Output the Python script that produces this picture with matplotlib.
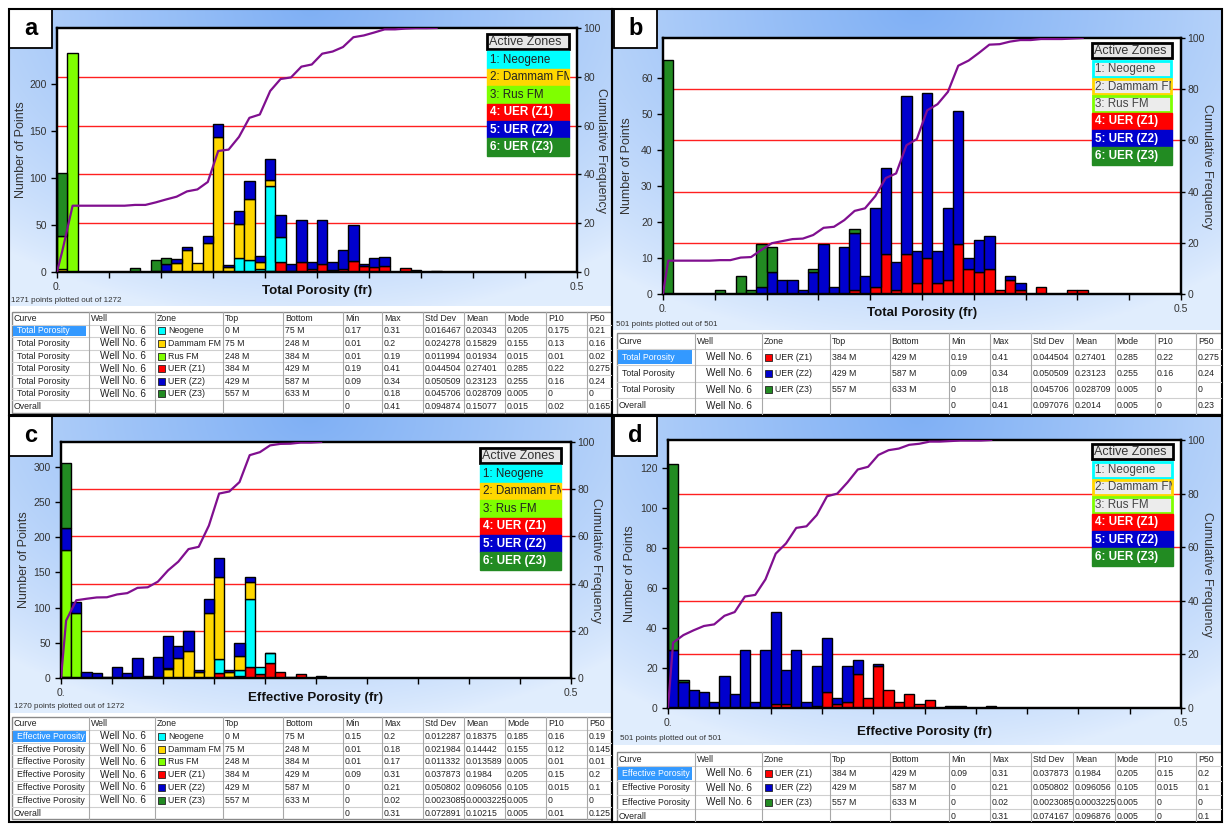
import numpy as np
import matplotlib.pyplot as plt
from matplotlib.patches import Rectangle

plt.rcParams['font.family'] = ['Liberation Sans', 'DejaVu Sans']

W, H = 1226, 826
BIN = 0.01

zone_names = ['Neogene', 'Dammam FM', 'Rus FM', 'UER (Z1)', 'UER (Z2)', 'UER (Z3)']
zone_colors = ['#00ffff', '#ffd700', '#7fff00', '#ff0000', '#0000cd', '#228b22']
# bottom-to-top order of the stacked segments
stack_order = [3, 0, 1, 2, 4, 5]

# counts per 0.01 porosity bin, first bin starts at 0
# (a) total porosity, all zones
a_neogene = [0, 0, 0, 0, 0, 0, 0, 0, 0, 0, 0, 0, 0, 0, 0, 0, 0, 15, 13, 3, 91, 26]
a_dammam = [3, 0, 0, 0, 0, 0, 0, 0, 0, 0, 0, 10, 23, 10, 31, 144, 5, 36, 65, 8, 6]
a_rus = [35, 233, 0, 0, 0, 0, 0, 0, 0, 0, 1]
a_z1 = [0, 0, 0, 0, 0, 0, 0, 0, 0, 0, 0, 0, 0, 0, 0, 0, 0, 0, 0, 0,
        1, 11, 1, 11, 3, 9, 2, 3, 12, 6, 5, 6, 0, 4, 2, 0, 1]
a_z2 = [0, 0, 0, 0, 0, 0, 0, 0, 0, 1, 7, 4, 4, 0, 7, 14, 2, 14, 19, 6,
        22, 24, 7, 44, 8, 46, 9, 20, 38, 3, 10, 10]
a_z3 = [67, 0, 0, 0, 0, 0, 0, 4, 0, 12, 7]

# (b) total porosity, UER zones
b_z1 = [0, 0, 0, 0, 0, 0, 0, 0, 0, 0, 0, 0, 0, 0, 0, 0, 0, 0, 1, 0,
        2, 11, 1, 11, 3, 10, 3, 4, 14, 7, 6, 7, 1, 4, 1, 0, 2, 0, 0, 1, 1]
b_z2 = [0, 0, 0, 0, 0, 0, 0, 0, 0, 2, 6, 4, 4, 1, 6, 14, 2, 13, 16, 5,
        22, 24, 8, 44, 9, 46, 9, 20, 37, 3, 9, 9, 0, 1, 2]
b_z3 = [65, 0, 0, 0, 0, 1, 0, 5, 1, 12, 7, 0, 0, 0, 1, 0, 0, 0, 1]

# (c) effective porosity, all zones
c_neogene = [0, 0, 0, 0, 0, 0, 0, 0, 0, 0, 0, 0, 0, 0, 0, 20, 0, 9, 97, 10, 14]
c_dammam = [2, 0, 0, 0, 0, 0, 0, 0, 0, 0, 13, 29, 38, 9, 92, 116, 6, 19, 23]
c_rus = [180, 93, 0, 0, 0, 0, 0, 0, 0, 0, 1]
c_z1 = [0, 0, 0, 0, 0, 0, 0, 0, 0, 0, 0, 0, 0, 0, 0, 7, 2, 3, 16, 6, 21, 8, 1, 6, 0, 3]
c_z2 = [31, 15, 8, 7, 1, 15, 7, 28, 3, 30, 46, 17, 29, 3, 21, 27, 3, 19, 7, 0, 1]
c_z3 = [92]

# (d) effective porosity, UER zones
d_z1 = [0, 0, 0, 0, 0, 0, 0, 0, 0, 0, 2, 2, 0, 0, 1, 8, 2, 3, 17, 5,
        21, 9, 3, 7, 2, 4, 0, 1, 1, 0, 0, 1]
d_z2 = [29, 13, 9, 8, 3, 16, 7, 29, 3, 29, 46, 17, 29, 3, 20, 27, 3, 18, 7, 0, 1]
d_z3 = [93, 1]

table_header = ['Curve', 'Well', 'Zone', 'Top', 'Bottom', 'Min', 'Max', 'Std Dev', 'Mean', 'Mode', 'P10', 'P50']
table_a = [
    ['Total Porosity', 'Well No. 6', 'Neogene', '0 M', '75 M', '0.17', '0.31', '0.016467', '0.20343', '0.205', '0.175', '0.21'],
    ['Total Porosity', 'Well No. 6', 'Dammam FM', '75 M', '248 M', '0.01', '0.2', '0.024278', '0.15829', '0.155', '0.13', '0.16'],
    ['Total Porosity', 'Well No. 6', 'Rus FM', '248 M', '384 M', '0.01', '0.19', '0.011994', '0.01934', '0.015', '0.01', '0.02'],
    ['Total Porosity', 'Well No. 6', 'UER (Z1)', '384 M', '429 M', '0.19', '0.41', '0.044504', '0.27401', '0.285', '0.22', '0.275'],
    ['Total Porosity', 'Well No. 6', 'UER (Z2)', '429 M', '587 M', '0.09', '0.34', '0.050509', '0.23123', '0.255', '0.16', '0.24'],
    ['Total Porosity', 'Well No. 6', 'UER (Z3)', '557 M', '633 M', '0', '0.18', '0.045706', '0.028709', '0.005', '0', '0'],
    ['Overall', '', '', '', '', '0', '0.41', '0.094874', '0.15077', '0.015', '0.02', '0.165'],
]
table_b = [
    ['Total Porosity', 'Well No. 6', 'UER (Z1)', '384 M', '429 M', '0.19', '0.41', '0.044504', '0.27401', '0.285', '0.22', '0.275'],
    ['Total Porosity', 'Well No. 6', 'UER (Z2)', '429 M', '587 M', '0.09', '0.34', '0.050509', '0.23123', '0.255', '0.16', '0.24'],
    ['Total Porosity', 'Well No. 6', 'UER (Z3)', '557 M', '633 M', '0', '0.18', '0.045706', '0.028709', '0.005', '0', '0'],
    ['Overall', 'Well No. 6', '', '', '', '0', '0.41', '0.097076', '0.2014', '0.005', '0', '0.23'],
]
table_c = [
    ['Effective Porosity', 'Well No. 6', 'Neogene', '0 M', '75 M', '0.15', '0.2', '0.012287', '0.18375', '0.185', '0.16', '0.19'],
    ['Effective Porosity', 'Well No. 6', 'Dammam FM', '75 M', '248 M', '0.01', '0.18', '0.021984', '0.14442', '0.155', '0.12', '0.145'],
    ['Effective Porosity', 'Well No. 6', 'Rus FM', '248 M', '384 M', '0.01', '0.17', '0.011332', '0.013589', '0.005', '0.01', '0.01'],
    ['Effective Porosity', 'Well No. 6', 'UER (Z1)', '384 M', '429 M', '0.09', '0.31', '0.037873', '0.1984', '0.205', '0.15', '0.2'],
    ['Effective Porosity', 'Well No. 6', 'UER (Z2)', '429 M', '587 M', '0', '0.21', '0.050802', '0.096056', '0.105', '0.015', '0.1'],
    ['Effective Porosity', 'Well No. 6', 'UER (Z3)', '557 M', '633 M', '0', '0.02', '0.0023085', '0.0003225', '0.005', '0', '0'],
    ['Overall', '', '', '', '', '0', '0.31', '0.072891', '0.10215', '0.005', '0.01', '0.125'],
]
table_d = [
    ['Effective Porosity', 'Well No. 6', 'UER (Z1)', '384 M', '429 M', '0.09', '0.31', '0.037873', '0.1984', '0.205', '0.15', '0.2'],
    ['Effective Porosity', 'Well No. 6', 'UER (Z2)', '429 M', '587 M', '0', '0.21', '0.050802', '0.096056', '0.105', '0.015', '0.1'],
    ['Effective Porosity', 'Well No. 6', 'UER (Z3)', '557 M', '633 M', '0', '0.02', '0.0023085', '0.0003225', '0.005', '0', '0'],
    ['Overall', '', '', '', '', '0', '0.31', '0.074167', '0.096876', '0.005', '0', '0.1'],
]

cols_left = [11.7, 88.5, 155, 223, 283, 343, 382, 423, 464, 505, 546, 587, 628]
cols_right = [616.7, 695, 762, 830, 889.5, 949, 990, 1031, 1073, 1114.5, 1155, 1196, 1237]

panels = [
    dict(letter='a', zones=[a_neogene, a_dammam, a_rus, a_z1, a_z2, a_z3], headroom=1.115, ystep=50,
         xlabel='Total Porosity (fr)', note='1271 points plotted out of 1272', table=table_a,
         active=[True] * 6,
         box=(9, 9, 612, 415), letter_box=(9, 9, 52, 48), axes=(57, 28, 577, 272), bg_bottom=306,
         legend=(487, 569, 34), ylab_x=21, y2lab_x=601, xlab_y=291, note_xy=(11, 301),
         cols=cols_left, table_top=312, row_h=12.6),
    dict(letter='b', zones=[[], [], [], b_z1, b_z2, b_z3], headroom=1.095, ystep=10,
         xlabel='Total Porosity (fr)', note='501 points plotted out of 501', table=table_b,
         active=[False, False, False, True, True, True],
         box=(612, 9, 1222, 415), letter_box=(614, 9, 657, 48), axes=(663, 38, 1181, 294), bg_bottom=330,
         legend=(1092, 1172, 43), ylab_x=627, y2lab_x=1207, xlab_y=313, note_xy=(616, 325),
         cols=cols_right, table_top=333, row_h=16.2),
    dict(letter='c', zones=[c_neogene, c_dammam, c_rus, c_z1, c_z2, c_z3], headroom=1.1, ystep=50,
         xlabel='Effective Porosity (fr)', note='1270 points plotted out of 1272', table=table_c,
         active=[True] * 6,
         box=(9, 416, 612, 822), letter_box=(9, 416, 52, 456), axes=(61, 442, 571, 678), bg_bottom=713,
         legend=(480, 561, 448), ylab_x=24, y2lab_x=596, xlab_y=698, note_xy=(14, 706),
         cols=cols_left, table_top=717, row_h=12.8),
    dict(letter='d', zones=[[], [], [], d_z1, d_z2, d_z3], headroom=1.1, ystep=20,
         xlabel='Effective Porosity (fr)', note='501 points plotted out of 501', table=table_d,
         active=[False, False, False, True, True, True],
         box=(612, 416, 1222, 822), letter_box=(614, 416, 657, 456), axes=(668, 440, 1181, 708), bg_bottom=745,
         legend=(1092, 1173, 444), ylab_x=630, y2lab_x=1207, xlab_y=732, note_xy=(620, 739),
         cols=cols_right, table_top=752, row_h=14.3),
]


def pad(v, n):
    return np.array(list(v) + [0] * (n - len(v)), dtype=float)


def fig_rect(x0, y0, x1, y1):
    return [x0 / W, 1 - y1 / H, (x1 - x0) / W, (y1 - y0) / H]


fig = plt.figure(figsize=(W / 100, H / 100), dpi=100)
fig.patch.set_facecolor('white')

# blue glow behind each chart
bg = fig.add_axes([0, 0, 1, 1])
bg.axis('off')
for p in panels:
    x0, y0, x1, y1 = p['box']
    yy, xx = np.mgrid[0:1:120j, 0:1:240j]
    r = np.hypot((xx - 0.5) / 0.8, yy / 1.05)
    t = np.clip(1 - r, 0, 1) ** 0.8
    top_c = np.array([0.50, 0.69, 0.96])
    edge_c = np.array([0.88, 0.93, 0.995])
    img = edge_c + (top_c - edge_c) * t[..., None]
    bg.imshow(img, extent=(x0, x1, p['bg_bottom'], y0), aspect='auto', interpolation='bilinear')
bg.set_xlim(0, W)
bg.set_ylim(H, 0)

for p in panels:
    n = max(len(z) for z in p['zones'])
    counts = [pad(z, n) for z in p['zones']]
    left = np.arange(n) * BIN
    totals = np.sum(counts, axis=0)
    ytop = totals.max() * p['headroom']

    ax = fig.add_axes(fig_rect(*p['axes']))
    ax.set_facecolor('white')
    for g in (0.2, 0.4, 0.6, 0.8):
        ax.axhline(ytop * g, color='#ff2020', lw=1, zorder=0.5)

    bottom = np.zeros(n)
    for k in stack_order:
        v = counts[k]
        m = v > 0
        if m.any():
            ax.bar(left[m], v[m], width=BIN, bottom=bottom[m], align='edge',
                   color=zone_colors[k], edgecolor='black', linewidth=1, zorder=2)
        bottom += v

    ax.set_xlim(0, 0.5)
    ax.set_ylim(0, ytop)
    ax.set_xticks(np.arange(0, 0.501, 0.05))
    ax.set_xticklabels(['0.'] + [''] * 9 + ['0.5'])
    ax.set_yticks(np.arange(0, ytop * 0.95, p['ystep']))
    ax.tick_params(direction='out', length=4, width=1, labelsize=7.5, labelcolor='#333333')
    for s in ax.spines.values():
        s.set_linewidth(1.6)

    # cumulative frequency through the bin centres
    last = np.nonzero(totals)[0].max() + 1
    cum = np.cumsum(totals[:last]) / totals.sum() * 100
    ax2 = ax.twinx()
    ax2.patch.set_visible(False)
    ax2.plot(np.r_[0, left[:last] + BIN / 2], np.r_[0, cum], color='#800f8f', lw=1.6, zorder=3)
    ax2.set_ylim(0, 100)
    ax2.set_yticks(range(0, 101, 20))
    ax2.tick_params(direction='out', length=3, width=1, pad=1.5, labelsize=7.5, labelcolor='#333333')
    for s in ax2.spines.values():
        s.set_linewidth(1.6)

# labels, legends and tables drawn in pixel coordinates on top
ov = fig.add_axes([0, 0, 1, 1])
ov.axis('off')
ov.patch.set_alpha(0)
ov.set_xlim(0, W)
ov.set_ylim(H, 0)
ov.set_autoscale_on(False)


def clipped(artist, clip):
    artist.set_clip_on(True)
    artist.set_clip_path(clip)
    return artist


def draw_legend(x0, x1, top, active):
    rh = 17.4
    ov.add_patch(Rectangle((x0, top), x1 - x0, rh - 2, fc='#e6e6e6', ec='black', lw=2))
    ov.text(x0 + 2, top + (rh - 2) / 2, 'Active Zones', fontsize=9, color='#333333', va='center')
    for i in range(6):
        y = top + (i + 1) * rh
        if active[i]:
            box = Rectangle((x0, y), x1 - x0, rh, fc=zone_colors[i], ec=zone_colors[i], lw=1)
            tc, fw = ('#222222', 'normal') if i < 3 else ('white', 'bold')
        else:
            box = Rectangle((x0 + 1, y + 1), x1 - x0 - 2, rh - 2, fc='#ececec', ec=zone_colors[i], lw=2)
            tc, fw = '#444444', 'normal'
        ov.add_patch(box)
        clipped(ov.text(x0 + 3, y + rh / 2, f'{i + 1}: {zone_names[i]}', fontsize=8.4, color=tc,
                        fontweight=fw, va='center'), box)


def draw_table(clip, cols, top, rh, rows):
    allrows = [table_header] + rows
    n = len(allrows)
    clipped(ov.add_patch(Rectangle((cols[0], top), cols[-1] - cols[0], n * rh,
                                   fc='white', ec='#8a8a8a', lw=1)), clip)
    for r in range(1, n):
        clipped(ov.plot([cols[0], cols[-1]], [top + r * rh] * 2, color='#cfcfcf', lw=0.8)[0], clip)
    for c in cols[1:-1]:
        clipped(ov.plot([c, c], [top, top + n * rh], color='#a8a8a8', lw=0.8)[0], clip)
    for r, row in enumerate(allrows):
        yc = top + (r + 0.5) * rh
        for c, s in enumerate(row):
            if not s:
                continue
            x, size, color = cols[c] + 2, 6.3, '#222222'
            if r > 0 and c == 0 and s != 'Overall':
                x = cols[0] + 5
                if r == 1:
                    clipped(ov.add_patch(Rectangle((cols[0] + 1, top + rh + 1), cols[1] - cols[0] - 4, rh - 2,
                                                   fc='#3399ff', ec='none')), clip)
                    color = 'white'
            if r > 0 and c == 1:
                x, size = cols[1] + 11, 7.2
            if r > 0 and c == 2:
                clipped(ov.add_patch(Rectangle((cols[2] + 3, yc - 3.5), 7, 7,
                                               fc=zone_colors[zone_names.index(s)], ec='#222222', lw=0.6)), clip)
                x = cols[2] + 13
            clipped(ov.text(x, yc, s, fontsize=size, color=color, va='center'), clip)


for p in panels:
    x0, y0, x1, y1 = p['box']
    clip = Rectangle((x0, y0), x1 - x0, y1 - y0, transform=ov.transData)
    ax_x0, ax_y0, ax_x1, ax_y1 = p['axes']
    yc = (ax_y0 + ax_y1) / 2

    ov.text(p['ylab_x'], yc, 'Number of Points', rotation=90, fontsize=9, color='#333333',
            ha='center', va='center')
    ov.text(p['y2lab_x'], yc, 'Cumulative Frequency', rotation=-90, fontsize=9, color='#333333',
            ha='center', va='center')
    ov.text((ax_x0 + ax_x1) / 2, p['xlab_y'], p['xlabel'], fontsize=9.6, fontweight='bold',
            color='#111111', ha='center', va='center')
    ov.text(*p['note_xy'], p['note'], fontsize=5.8, color='#333333', va='center')

    draw_legend(*p['legend'], p['active'])
    draw_table(clip, p['cols'], p['table_top'], p['row_h'], p['table'])

    lx0, ly0, lx1, ly1 = p['letter_box']
    ov.add_patch(Rectangle((lx0, ly0), lx1 - lx0, ly1 - ly0, fc='white', ec='black', lw=1.3))
    ov.text((lx0 + lx1) / 2, (ly0 + ly1) / 2, p['letter'], fontsize=17, fontweight='bold',
            ha='center', va='center')
    ov.add_patch(Rectangle((x0, y0), x1 - x0, y1 - y0, fill=False, ec='black', lw=1.5))

fig.savefig('out.png', dpi=100)
